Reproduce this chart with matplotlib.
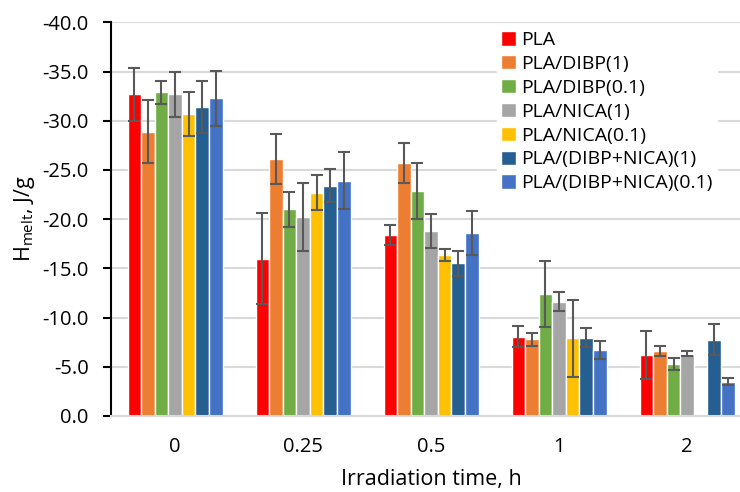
import numpy as np
import matplotlib.pyplot as plt

plt.rcParams['font.family'] = ['Open Sans', 'DejaVu Sans']

times = ['0', '0.25', '0.5', '1', '2']
series = ['PLA', 'PLA/DIBP(1)', 'PLA/DIBP(0.1)', 'PLA/NICA(1)', 'PLA/NICA(0.1)',
          'PLA/(DIBP+NICA)(1)', 'PLA/(DIBP+NICA)(0.1)']
colors = ['#FF0000', '#ED7D31', '#70AD47', '#A5A5A5', '#FFC000', '#255E91', '#4472C4']

# melting enthalpy, J/g (one row per sample, columns = irradiation time)
h_pla = [-32.7, -16.0, -18.4, -8.05, -6.2]
h_dibp1 = [-28.9, -26.1, -25.7, -7.8, -6.6]
h_dibp01 = [-32.9, -21.0, -22.9, -12.4, -5.3]
h_nica1 = [-32.7, -20.2, -18.8, -11.6, -6.35]
h_nica01 = [-30.7, -22.7, -16.4, -7.9, np.nan]
h_mix1 = [-31.4, -23.4, -15.5, -7.95, -7.75]
h_mix01 = [-32.3, -23.9, -18.6, -6.7, -3.5]

e_pla = [2.7, 4.6, 1.0, 1.05, 2.45]
e_dibp1 = [3.2, 2.55, 2.0, 0.65, 0.5]
e_dibp01 = [1.15, 1.75, 2.85, 3.4, 0.6]
e_nica1 = [2.3, 3.45, 1.7, 0.95, 0.3]
e_nica01 = [2.2, 1.8, 0.6, 3.9, np.nan]
e_mix1 = [2.65, 1.7, 1.25, 0.95, 1.55]
e_mix01 = [2.8, 2.9, 2.2, 0.95, 0.4]

values = [h_pla, h_dibp1, h_dibp01, h_nica1, h_nica01, h_mix1, h_mix01]
errors = [e_pla, e_dibp1, e_dibp01, e_nica1, e_nica01, e_mix1, e_mix01]

fig = plt.figure(figsize=(7.4, 4.92), dpi=100)
ax = fig.add_axes([0.15, 0.1545, 0.865, 0.8])

x = np.arange(len(times))
w = 0.106
for i in range(len(series)):
    pos = x + (i - 3) * w
    ax.bar(pos, values[i], width=w, color=colors[i], edgecolor='white',
           linewidth=1, label=series[i], zorder=2)
    ax.errorbar(pos, values[i], yerr=errors[i], fmt='none', ecolor='#595959',
                elinewidth=1.5, capsize=4, capthick=1.5, zorder=3)

ax.set_xlim(-0.5, 4.5)
ax.set_ylim(0, -40)
ax.set_yticks(np.arange(0, -40.1, -5))
ax.set_yticklabels(['%.1f' % v for v in np.arange(0, -40.1, -5)])
ax.set_xticks(x)
ax.set_xticklabels(times)

ax.grid(axis='y', color='#D9D9D9', linewidth=1.5, zorder=0)
ax.set_axisbelow(True)
for s in ['top', 'right']:
    ax.spines[s].set_visible(False)
ax.spines['left'].set_color('black')
ax.spines['left'].set_linewidth(1.5)
ax.spines['bottom'].set_color('#D9D9D9')
ax.spines['bottom'].set_linewidth(1.5)
ax.tick_params(axis='y', length=6, width=1.5, labelsize=14.5, colors='black', pad=10)
ax.tick_params(axis='x', length=0, labelsize=14.5, pad=15)

ax.set_ylabel('H$_{\\mathregular{melt}}$, J/g', fontsize=15.5, labelpad=4)
ax.set_xlabel('Irradiation time, h', fontsize=15.5, labelpad=9)

leg = ax.legend(loc='upper left', bbox_to_anchor=(0.588, 1.012), frameon=True,
                fontsize=14, handlelength=0.75, handleheight=0.75,
                handletextpad=0.3, labelspacing=0.3, borderpad=0.2)
leg.get_frame().set_edgecolor('white')
leg.get_frame().set_facecolor('white')
leg.get_frame().set_alpha(1)

fig.savefig('out.png', dpi=100)
